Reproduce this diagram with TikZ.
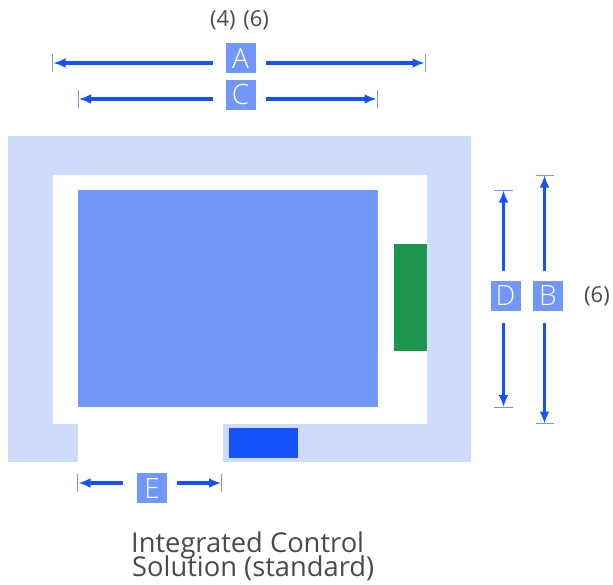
\documentclass[tikz,border=0pt]{standalone}
\usepackage{fontspec}
\setmainfont{Open Sans}
\newfontfamily\lightfont{Open Sans Light}
\usetikzlibrary{arrows.meta}
\definecolor{lightb}{HTML}{CFDBFD}
\definecolor{midb}{HTML}{7297FB}
\definecolor{darkb}{HTML}{1652FB}
\definecolor{greenb}{HTML}{1B944C}
\definecolor{txt}{HTML}{4A4A4A}
\tikzset{
  x=1bp,y=-1bp,
  badge/.style={fill=midb,text=white,minimum size=30bp,inner sep=0pt,font=\lightfont\fontsize{28bp}{28bp}\selectfont},
  dimline/.style={draw=darkb,line width=3.3bp,-{Latex[length=12bp,width=10bp]}},
  tick/.style={draw=midb,line width=0.8bp},
  label/.style={text=txt,inner sep=0pt,font=\fontsize{22bp}{22bp}\selectfont},
  caption/.style={text=txt,inner sep=0pt,anchor=base west,font=\fontsize{27.3bp}{27.3bp}\selectfont},
}
\begin{document}
\begin{tikzpicture}
\useasboundingbox (0,0) rectangle (613,585);
% housing
\fill[lightb] (8,136) rectangle (471,462);
\fill[white] (53,175) rectangle (427,423.5);
\fill[white] (78,423) rectangle (223,463);
\fill[midb] (78,190) rectangle (378,407);
\fill[greenb] (394,244) rectangle (427,351);
\fill[darkb] (229,428) rectangle (298,458);
% badges
\node[badge] (A) at (240.5,58) {A};
\node[badge] (C) at (240.5,95) {C};
\node[badge] (D) at (505.5,296) {D};
\node[badge] (B) at (548,296) {B};
\node[badge] (E) at (152,488) {E};
% anchors
\coordinate (Al) at (53.5,63); \coordinate (Ar) at (424.5,63);
\coordinate (As) at (213,63); \coordinate (Ae) at (266,63);
\coordinate (Cl) at (79,99); \coordinate (Cr) at (376.5,99);
\coordinate (Cs) at (213,99); \coordinate (Ce) at (266,99);
\coordinate (Dt) at (503.5,190.5); \coordinate (Db) at (503.5,407);
\coordinate (Ds) at (503.5,271); \coordinate (De) at (503.5,323);
\coordinate (Bt) at (544.5,175.5); \coordinate (Bb) at (544.5,423.5);
\coordinate (Bs) at (544.5,271); \coordinate (Be) at (544.5,323);
\coordinate (El) at (78.5,483); \coordinate (Er) at (221,483);
\coordinate (Es) at (123,483); \coordinate (Ee) at (177,483);
% dimension arrows
\draw[dimline] (As) -- (Al);
\draw[dimline] (Ae) -- (Ar);
\draw[dimline] (Cs) -- (Cl);
\draw[dimline] (Ce) -- (Cr);
\draw[dimline] (Ds) -- (Dt);
\draw[dimline] (De) -- (Db);
\draw[dimline] (Bs) -- (Bt);
\draw[dimline] (Be) -- (Bb);
\draw[dimline] (Es) -- (El);
\draw[dimline] (Ee) -- (Er);
% ticks
\draw[tick] (52.5,54) -- (52.5,72);
\draw[tick] (425.5,54) -- (425.5,72);
\draw[tick] (78.5,90) -- (78.5,108);
\draw[tick] (377.5,90) -- (377.5,108);
\draw[tick] (494,190) -- (513,190);
\draw[tick] (494,407) -- (513,407);
\draw[tick] (535.5,175) -- (554,175);
\draw[tick] (535.5,423.5) -- (554,423.5);
\draw[tick] (77.5,473.5) -- (77.5,492);
\draw[tick] (221.5,473.5) -- (221.5,492);
% labels
\node[label,anchor=base] (t46) at (239.5,26.7) {(4)\hspace{2bp} (6)};
\node[label,anchor=base] (t6) at (597,302.7) {(6)};
\node[caption] (t1) at (131,552) {Integrated Control};
\node[caption] (t2) at (132,576) {Solution (standard)};
\end{tikzpicture}
\end{document}
